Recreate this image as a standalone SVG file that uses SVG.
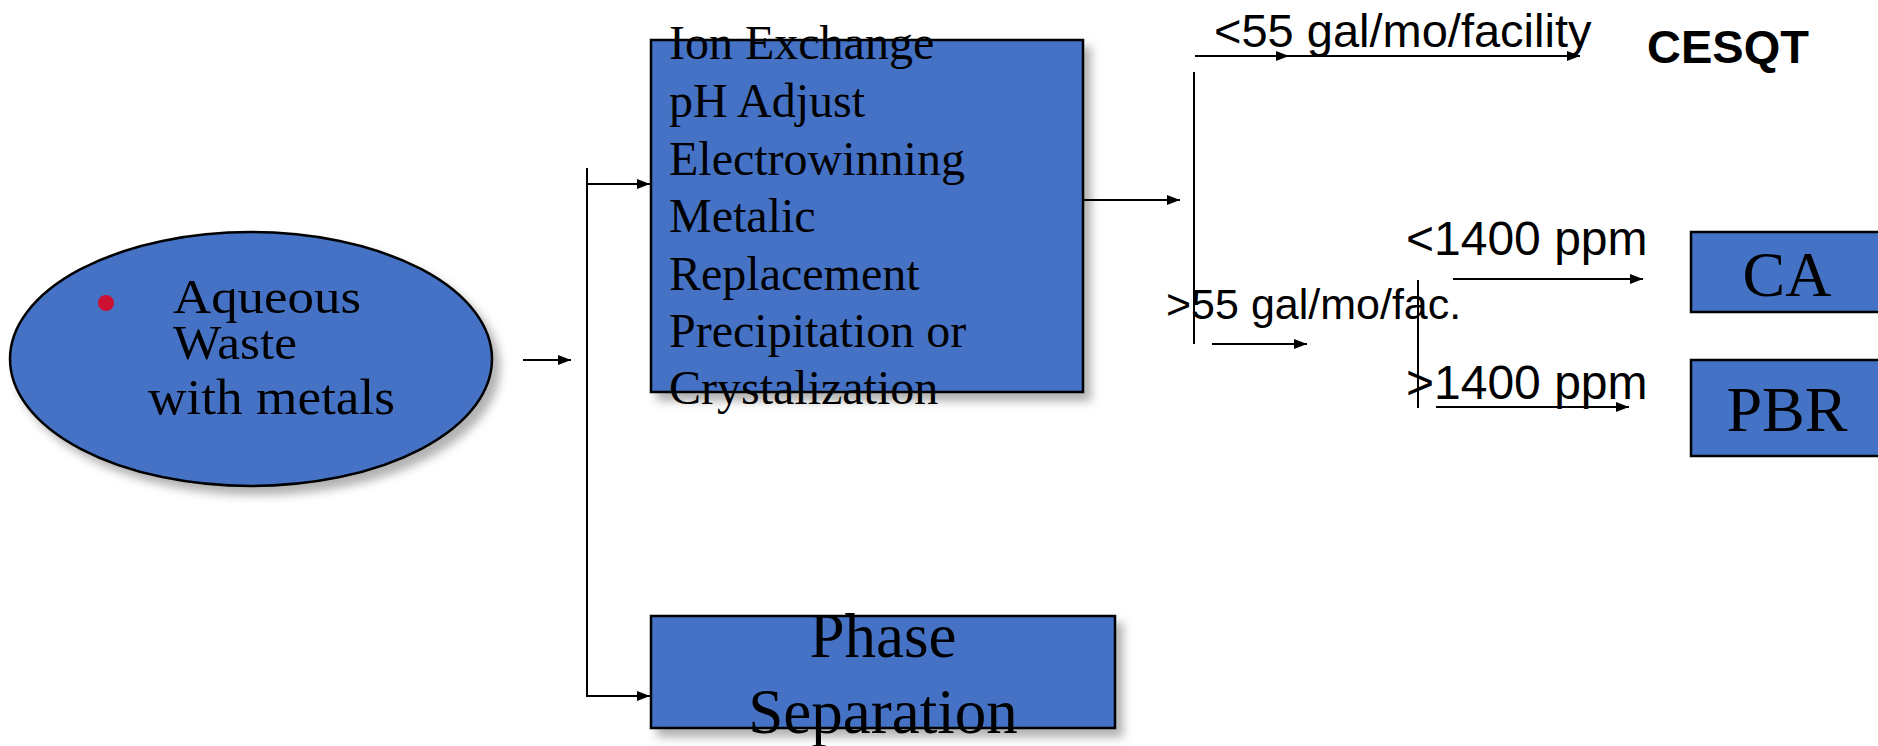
<svg xmlns="http://www.w3.org/2000/svg" width="1878" height="746" viewBox="0 0 1878 746">
<style>
.node{fill:#4472C4;stroke:#000;stroke-width:2.5}
.serif{font-family:"Liberation Serif","Times New Roman",serif;fill:#000}
.sans{font-family:"Liberation Sans",Arial,sans-serif;fill:#000}
.ln{stroke:#000;stroke-width:2;fill:none}
.arr{stroke:#000;stroke-width:2;fill:none;marker-end:url(#ah)}
</style>
<defs>
<marker id="ah" markerUnits="userSpaceOnUse" markerWidth="14" markerHeight="12" refX="13" refY="6" orient="auto">
<path d="M0,1 L13,6 L0,11 Z" fill="#000"/>
</marker>
<filter id="sh" x="-10%" y="-10%" width="130%" height="140%">
<feDropShadow dx="7" dy="8" stdDeviation="5" flood-color="#000" flood-opacity="0.3"/>
</filter>
</defs>
<rect width="1878" height="746" fill="#fff"/>

<g id="connectors">
<line class="arr" x1="523" y1="360" x2="571" y2="360"/>
<line class="ln" x1="587" y1="168" x2="587" y2="697"/>
<line class="arr" x1="587" y1="184" x2="650" y2="184"/>
<line class="arr" x1="586" y1="696" x2="650" y2="696"/>
<line class="arr" x1="1084" y1="200" x2="1180" y2="200"/>
<line class="ln" x1="1194" y1="72" x2="1194" y2="344"/>
<line class="arr" x1="1195" y1="56" x2="1289" y2="56"/>
<line class="arr" x1="1285" y1="56" x2="1580" y2="56"/>
<line class="arr" x1="1212" y1="344" x2="1307" y2="344"/>
<line class="ln" x1="1418" y1="280" x2="1418" y2="408"/>
<line class="arr" x1="1453" y1="279" x2="1643" y2="279"/>
<line class="arr" x1="1436" y1="407" x2="1629" y2="407"/>
</g>

<g id="labels">
<text class="sans" x="1214" y="47" font-size="47">&lt;55 gal/mo/facility</text>
<text class="sans" x="1647" y="63" font-size="47" font-weight="bold">CESQT</text>
<text class="sans" x="1166" y="319" font-size="43">&gt;55 gal/mo/fac.</text>
<text class="sans" x="1406" y="255" font-size="48">&lt;1400 ppm</text>
<text class="sans" x="1406" y="399" font-size="48">&gt;1400 ppm</text>
</g>

<g id="aqueous-waste">
<ellipse class="node" cx="251" cy="359" rx="241" ry="127" filter="url(#sh)"/>
<circle cx="106" cy="303" r="8" fill="#CC1133"/>
<text class="serif" font-size="49" x="173" y="313" textLength="188" lengthAdjust="spacingAndGlyphs">Aqueous</text>
<text class="serif" font-size="49" x="173" y="359" textLength="124" lengthAdjust="spacingAndGlyphs">Waste</text>
<text class="serif" font-size="50" x="148" y="414" textLength="247" lengthAdjust="spacingAndGlyphs">with metals</text>
</g>

<g id="treatment">
<rect class="node" x="651" y="40" width="432" height="352" filter="url(#sh)"/>
<g class="serif" font-size="48">
<text x="669" y="59">Ion Exchange</text>
<text x="669" y="117">pH Adjust</text>
<text x="669" y="175">Electrowinning</text>
<text x="669" y="232">Metalic</text>
<text x="669" y="290">Replacement</text>
<text x="669" y="347">Precipitation or</text>
<text x="669" y="404">Crystalization</text>
</g>
</g>

<g id="phase-separation">
<rect class="node" x="651" y="616" width="464" height="112" filter="url(#sh)"/>
<text class="serif" font-size="63" x="883" y="657" text-anchor="middle">Phase</text>
<text class="serif" font-size="63" x="883" y="733" text-anchor="middle">Separation</text>
</g>

<g id="ca">
<rect class="node" x="1691" y="232" width="194" height="80"/>
<text class="serif" font-size="64" x="1787" y="296" text-anchor="middle">CA</text>
</g>

<g id="pbr">
<rect class="node" x="1691" y="360" width="194" height="96"/>
<text class="serif" font-size="64" x="1787" y="431" text-anchor="middle">PBR</text>
</g>
</svg>
